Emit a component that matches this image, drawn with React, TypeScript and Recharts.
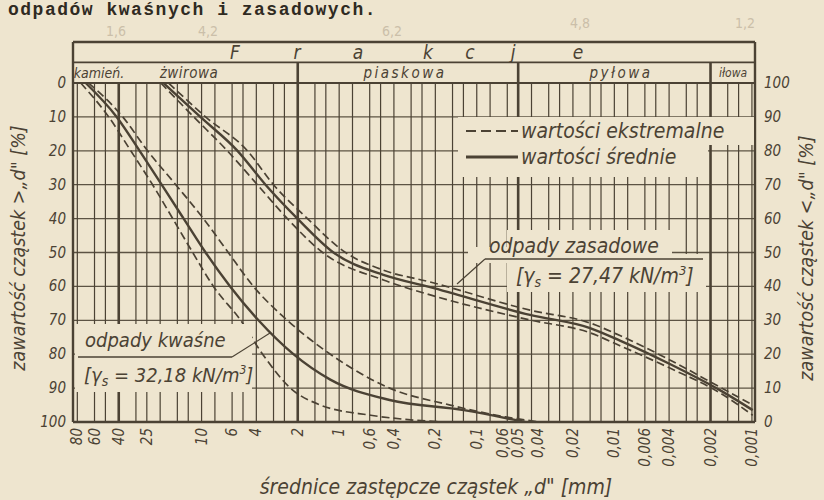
import { LineChart, Line, XAxis, YAxis, CartesianGrid, ReferenceLine } from "recharts";

// grain size curves, x = diameter d [mm], r = content of particles > d [%]
const kwasneMeanD = [69.5, 41.4, 28.2, 19.5, 13.5, 9.35, 6.2, 3.86, 2.15, 1.16, 0.43, 0.124, 0.0445];
const kwasneMeanR = [0, 10, 20, 30, 40, 50, 60, 70, 80, 87.5, 93.5, 96.5, 100];
const kwasneFineD = [66.1, 37.4, 24.7, 15.4, 9.7, 6.4, 4.2, 2.38, 1.16, 0.43, 0.156, 0.062, 0.0347];
const kwasneFineR = [0, 10, 20, 30, 40, 50, 60, 70, 80, 90, 95, 98.5, 100];
const kwasneCoarseD = [75.5, 47.3, 32.7, 22.7, 16.2, 11.6, 8.2, 5.2, 3.6, 2.26, 1.37, 0.59, 0.18];
const kwasneCoarseR = [0, 10, 20, 30, 40, 50, 60, 70, 80, 90, 95, 98, 100];

const zasadMeanD = [18.9, 10.2, 5.48, 3.43, 2.01, 1.1, 0.477, 0.218, 0.041, 0.015, 0.0091, 0.00395, 0.00171, 0.000987];
const zasadMeanR = [0, 10, 20, 30, 40, 50, 56.6, 60.2, 68.4, 72.3, 76, 82.9, 90.6, 96.5];
const zasadFineD = [17.35, 9.35, 4.64, 3.0, 1.7, 0.9, 0.477, 0.218, 0.041, 0.015, 0.0091, 0.00395, 0.00171, 0.000987];
const zasadFineR = [0, 10, 20, 30, 40, 50, 55.2, 58.7, 67, 70.8, 74.5, 81.7, 89.7, 95];
const zasadCoarseD = [19.8, 11.4, 6.5, 3.93, 2.38, 1.32, 0.477, 0.218, 0.041, 0.015, 0.0091, 0.00395, 0.00171, 0.000987];
const zasadCoarseR = [0, 10, 20, 30, 40, 50, 58.1, 62.5, 69.9, 73.7, 77.5, 84.1, 91.4, 98];

const xTicks = [80, 60, 40, 25, 10, 6, 4, 2, 1, 0.6, 0.4, 0.2, 0.1, 0.06, 0.05, 0.04, 0.02, 0.01, 0.006, 0.004, 0.002, 0.001];
const yTicks = [0, 10, 20, 30, 40, 50, 60, 70, 80, 90, 100];
const fractionLimits = [40, 2, 0.05, 0.002];
const gridDecades = [-3, -2, -1, 0, 1];
const gridSteps = [1, 1.25, 1.5, 2, 2.5, 3, 4, 5, 6, 8];

const D_MIN = 0.00095;
const D_MAX = 86;
const HEAD = -12.1; // header band above 0 %
const HEAD_MID = -6.1;

const INK = "#4b4234";
const BG = "#eee5cf";
const FONT = '"Liberation Sans Narrow", "DejaVu Sans Condensed", "Liberation Sans", sans-serif';

const toPoints = (d: number[], r: number[]) => d.map((v, i) => ({ d: v, r: r[i] }));

const gridDiameters = gridDecades
  .flatMap((e) => gridSteps.map((s) => +(s * Math.pow(10, e)).toPrecision(3)))
  .filter((v) => v > D_MIN && v < D_MAX && !fractionLimits.includes(v));

const series = [
  { key: "kf", data: toPoints(kwasneFineD, kwasneFineR), dashed: true },
  { key: "km", data: toPoints(kwasneMeanD, kwasneMeanR), dashed: false },
  { key: "kc", data: toPoints(kwasneCoarseD, kwasneCoarseR), dashed: true },
  { key: "zf", data: toPoints(zasadFineD, zasadFineR), dashed: true },
  { key: "zm", data: toPoints(zasadMeanD, zasadMeanR), dashed: false },
  { key: "zc", data: toPoints(zasadCoarseD, zasadCoarseR), dashed: true },
];

const fmt = (v: number) => String(v).replace(".", ",");
// crowded labels around 0,05 are pushed apart a little
const tickNudge: Record<string, number> = { "0.06": -4, "0.04": 6 };

const XTick = ({ x, y, payload }: any) => (
  <text
    transform={`translate(${x + 5 + (tickNudge[String(payload.value)] || 0)},${y - 2}) rotate(-90)`}
    textAnchor="end"
    fontSize={15}
    fontStyle="italic"
    fill={INK}
    fontFamily={FONT}
  >
    {fmt(payload.value)}
  </text>
);

const LeftTick = ({ x, y, payload }: any) => (
  <text x={x - 1} y={y + 5} textAnchor="end" fontSize={15} fontStyle="italic" fill={INK} fontFamily={FONT}>
    {payload.value}
  </text>
);

const RightTick = ({ x, y, payload }: any) => (
  <text x={x + 3} y={y + 5} textAnchor="start" fontSize={15} fontStyle="italic" fill={INK} fontFamily={FONT}>
    {payload.value}
  </text>
);

const italic = { fontStyle: "italic" as const, fill: INK, fontFamily: FONT };

function Overlay() {
  return (
    <svg width={824} height={500} style={{ position: "absolute", left: 0, top: 0, pointerEvents: "none" }}>
      <text x={8} y={15} fontSize={18} fontWeight="bold" fill="#2f2a22" letterSpacing={1.5}
        fontFamily='"Liberation Mono", "DejaVu Sans Mono", monospace'>
        odpadów kwaśnych i zasadowych.
      </text>
      {/* pencil notes on the scan */}
      <g fill="#cbbfa9" fontSize={14} fontFamily={FONT}>
        <text x={106} y={36}>1,6</text>
        <text x={198} y={36}>4,2</text>
        <text x={382} y={36}>6,2</text>
        <text x={570} y={28}>4,8</text>
        <text x={735} y={28}>1,2</text>
      </g>

      {/* header */}
      <g {...italic} fontSize={19} textAnchor="middle">
        <text x={235} y={59}>F</text>
        <text x={297} y={59}>r</text>
        <text x={358} y={59}>a</text>
        <text x={428} y={59}>k</text>
        <text x={470} y={59}>c</text>
        <text x={513} y={59}>j</text>
        <text x={578} y={59}>e</text>
      </g>
      <g {...italic} fontSize={15} textAnchor="middle">
        <text x={99} y={78} fontSize={14}>kamień.</text>
        <text x={189} y={78} letterSpacing={0.5}>żwirowa</text>
        <text x={405} y={78} letterSpacing={2.5}>piaskowa</text>
        <text x={621} y={78} letterSpacing={2.5}>pyłowa</text>
        <text x={733} y={77} fontSize={12}>iłowa</text>
      </g>

      {/* legend */}
      <rect x={458} y={117} width={250} height={60} fill={BG} />
      <rect x={700} y={117} width={54} height={28} fill={BG} />
      <line x1={466} x2={518} y1={131} y2={131} stroke={INK} strokeWidth={2} strokeDasharray="10 5" />
      <line x1={466} x2={518} y1={157} y2={157} stroke={INK} strokeWidth={3} />
      <text x={521} y={138} fontSize={21} {...italic}>wartości ekstremalne</text>
      <text x={521} y={164} fontSize={21} {...italic}>wartości średnie</text>

      {/* odpady zasadowe */}
      <rect x={507} y={230} width={165} height={62} fill={BG} />
      <rect x={672} y={254} width={34} height={38} fill={BG} />
      <rect x={468} y={247} width={40} height={16} fill={BG} />
      <text x={489} y={253} fontSize={21} {...italic}>odpady zasadowe</text>
      <line x1={485} x2={703} y1={259} y2={259} stroke={INK} strokeWidth={1.6} />
      <line x1={485} x2={457} y1={259} y2={284} stroke={INK} strokeWidth={1.2} />
      <text x={516} y={283} fontSize={21} {...italic}>
        [γ<tspan fontSize={14} dy={4}>s</tspan>
        <tspan dy={-4}> = 27,47 kN/m</tspan>
        <tspan fontSize={13} dy={-8}>3</tspan>
        <tspan dy={8}>]</tspan>
      </text>

      {/* odpady kwaśne */}
      <rect x={75} y={324} width={177} height={68} fill={BG} />
      <text x={85} y={347} fontSize={20} {...italic}>odpady kwaśne</text>
      <line x1={78} x2={232} y1={357} y2={357} stroke={INK} strokeWidth={1.6} />
      <line x1={232} x2={270} y1={357} y2={333} stroke={INK} strokeWidth={1.2} />
      <text x={84} y={382} fontSize={20} {...italic}>
        [γ<tspan fontSize={14} dy={4}>s</tspan>
        <tspan dy={-4}> = 32,18 kN/m</tspan>
        <tspan fontSize={12} dy={-8}>3</tspan>
        <tspan dy={8}>]</tspan>
      </text>

      {/* axis titles */}
      <text transform="translate(25,248) rotate(-90)" textAnchor="middle" fontSize={19.5} {...italic}>
        zawartość cząstek &gt;„d" [%]
      </text>
      <text transform="translate(813,258) rotate(-90)" textAnchor="middle" fontSize={19.5} {...italic}>
        zawartość cząstek &lt;„d" [%]
      </text>
      <text x={436} y={494} textAnchor="middle" fontSize={21} {...italic}>
        średnice zastępcze cząstek „d" [mm]
      </text>
    </svg>
  );
}

export default function App() {
  return (
    <div style={{ position: "absolute", left: 0, top: 0, width: 824, height: 500, background: BG, overflow: "hidden" }}>
      <LineChart width={824} height={500} margin={{ top: 42, right: 0, bottom: 0, left: 0 }}>
        <CartesianGrid horizontal vertical={false} stroke={INK} strokeWidth={1.3} strokeOpacity={0.9} />
        <XAxis
          dataKey="d"
          type="number"
          scale="log"
          domain={[D_MIN, D_MAX]}
          allowDataOverflow
          reversed
          ticks={xTicks}
          interval={0}
          height={78}
          axisLine={false}
          tickLine={false}
          tick={<XTick />}
        />
        <YAxis
          dataKey="r"
          type="number"
          domain={[HEAD, 100]}
          allowDataOverflow
          reversed
          ticks={yTicks}
          interval={0}
          width={73}
          axisLine={false}
          tickLine={false}
          tickMargin={0}
          tick={<LeftTick />}
        />
        <YAxis
          yAxisId="r"
          orientation="right"
          type="number"
          domain={[0, 100 - HEAD]}
          allowDataOverflow
          ticks={yTicks}
          interval={0}
          width={69}
          axisLine={false}
          tickLine={false}
          tickMargin={0}
          tick={<RightTick />}
        />

        {gridDiameters.map((g) => (
          <ReferenceLine key={"g" + g} segment={[{ x: g, y: 0 }, { x: g, y: 100 }]} stroke={INK} strokeWidth={1.2} />
        ))}
        {fractionLimits.map((g, i) => (
          <ReferenceLine
            key={"f" + g}
            segment={[{ x: g, y: i === 0 ? 0 : HEAD_MID }, { x: g, y: 100 }]}
            stroke={INK}
            strokeWidth={2.6}
          />
        ))}
        <ReferenceLine y={HEAD_MID} stroke={INK} strokeWidth={1.6} />
        <ReferenceLine y={0} stroke={INK} strokeWidth={1.8} />
        <ReferenceLine y={HEAD} stroke={INK} strokeWidth={2.4} ifOverflow="visible" />
        <ReferenceLine y={100} stroke={INK} strokeWidth={2.4} ifOverflow="visible" />
        <ReferenceLine x={D_MIN} stroke={INK} strokeWidth={2.4} ifOverflow="visible" />
        <ReferenceLine x={D_MAX} stroke={INK} strokeWidth={2.4} ifOverflow="visible" />

        {series.map((s) => (
          <Line
            key={s.key}
            data={s.data}
            dataKey="r"
            type="monotone"
            stroke={INK}
            strokeWidth={s.dashed ? 1.7 : 2.4}
            strokeDasharray={s.dashed ? "8 4" : undefined}
            dot={false}
            activeDot={false}
            isAnimationActive={false}
          />
        ))}
      </LineChart>
      <Overlay />
    </div>
  );
}
